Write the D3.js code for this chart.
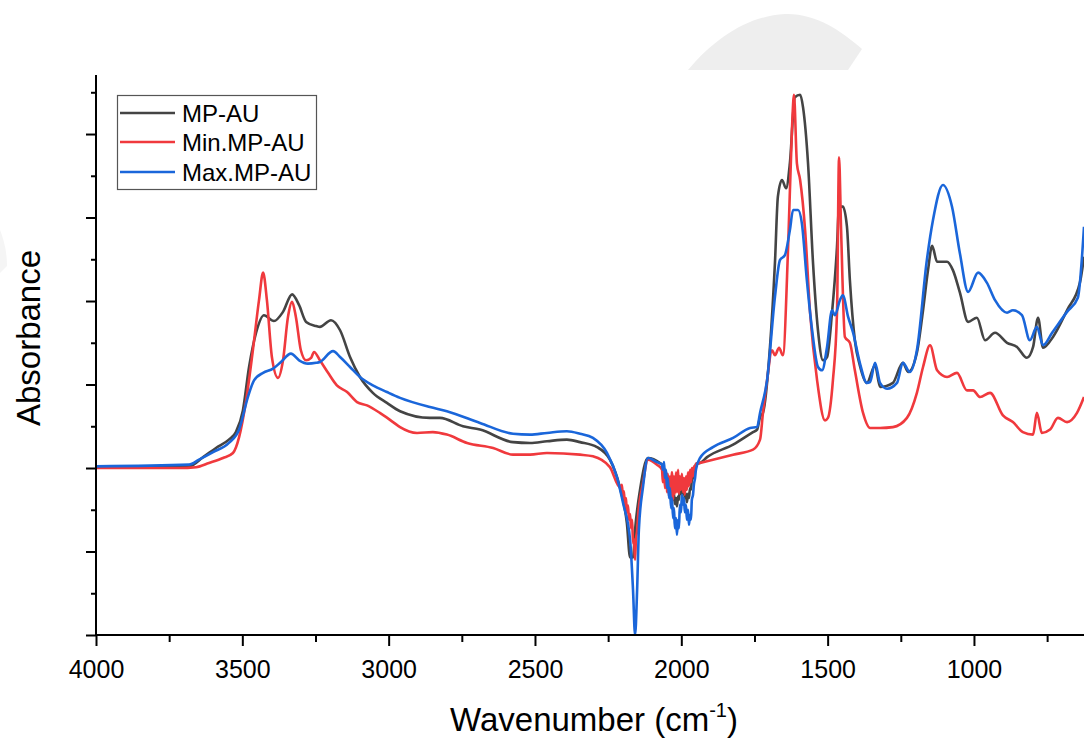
<!DOCTYPE html>
<html>
<head>
<meta charset="utf-8">
<script src="https://cdn.jsdelivr.net/npm/d3@7/dist/d3.min.js"></script>
<style>
html,body{margin:0;padding:0;background:#fff;}
svg{display:block;font-family:"Liberation Sans",Arial,sans-serif;}
</style>
</head>
<body>
<svg id="chart" width="1084" height="739"></svg>
<script>
// ---- data (wavenumber in cm-1, absorbance in a.u.) ----
const seriesNames = ["MP-AU", "Min.MP-AU", "Max.MP-AU"];
const seriesColors = ["#444444", "#f0393d", "#1a66da"];

const mpAuWn = [4000,3682,3634,3590,3546,3522,3498,3477,3453,3426,3392,3361,3330,3306,3282,3248,3235,3197,3166,3132,3098,3054,3006,2961,2859,2825,2746,2688,2575,2517,2459,2391,2346,2288,2244,2210,2186,2175,2165,2158,2141,2114,2073,
  2066,2063,2059,2056,2052,2049,2046,2042,2039,2035,2032,2028,2025,2022,2018,2015,2011,2008,2005,2001,1998,1994,1991,1988,1984,1981,1977,1974,1970,1967,1964,1960,1957,1953,1950,
  1936,1912,1823,1755,1741,1731,1721,1697,1680,1670,1656,1642,1629,1612,1594,1584,1567,1550,1533,1516,1502,1485,1468,1461,1448,1434,1424,1407,1390,1366,1338,1321,1277,1243,1225,1195,1174,1157,1143,1126,1092,1072,1048,1020,990,962,928,887,853,819,798,781,764,730,682,638,624];
const mpAuAbs = [0.001,0.002,0.013,0.024,0.034,0.043,0.069,0.121,0.162,0.183,0.176,0.187,0.208,0.195,0.175,0.170,0.169,0.177,0.165,0.133,0.109,0.090,0.078,0.068,0.060,0.060,0.050,0.046,0.031,0.030,0.032,0.034,0.031,0.025,0.010,-0.023,-0.066,-0.107,-0.107,-0.074,-0.026,0.012,0.006,
  0.004,-0.002,0.001,-0.010,-0.005,-0.017,-0.012,-0.024,-0.019,-0.031,-0.026,-0.038,-0.031,-0.043,-0.036,-0.046,-0.034,-0.038,-0.024,-0.031,-0.022,-0.031,-0.026,-0.036,-0.031,-0.041,-0.031,-0.036,-0.024,-0.026,-0.014,-0.012,-0.002,0,0.005,
  0.006,0.013,0.028,0.043,0.046,0.061,0.066,0.145,0.246,0.325,0.345,0.335,0.365,0.444,0.447,0.432,0.365,0.246,0.165,0.129,0.133,0.186,0.265,0.313,0.313,0.289,0.225,0.153,0.123,0.102,0.123,0.097,0.102,0.126,0.115,0.138,0.189,0.237,0.266,0.247,0.247,0.237,0.210,0.175,0.180,0.153,0.162,0.150,0.145,0.132,0.145,0.180,0.144,0.157,0.189,0.222,0.253];

const minWn = [4000,3716,3658,3614,3566,3532,3511,3487,3464,3443,3429,3416,3399,3378,3361,3344,3330,3317,3300,3282,3265,3255,3235,3207,3177,3142,3108,3074,3030,2985,2961,2903,2849,2801,2732,2643,2575,2517,2459,2346,2302,2244,2210,
  2203,2199,2196,2193,2189,2186,2182,2179,2175,2172,2168,2165,2162,2158,2155,2151,2148,
  2131,2114,2083,
  2066,2063,2059,2056,2052,2049,2046,2042,2039,2035,2032,2028,2025,2022,2018,2015,2011,2008,2005,2001,1998,1994,1991,1988,1984,1981,1977,1974,1970,1967,1964,1960,1957,1953,1950,
  1926,1823,1755,1731,1721,1707,1690,1680,1666,1653,1635,1622,1615,1605,1594,1577,1560,1536,1509,1499,1482,1468,1461,1454,1441,1424,1407,1379,1355,1321,1277,1229,1195,1174,1150,1126,1092,1058,1024,1003,979,945,901,867,833,798,785,768,740,713,682,648,624];
const minAbs = [0,0,0.001,0.006,0.012,0.018,0.037,0.081,0.141,0.201,0.234,0.201,0.133,0.108,0.129,0.181,0.199,0.181,0.141,0.129,0.132,0.139,0.129,0.114,0.099,0.091,0.079,0.075,0.066,0.055,0.049,0.042,0.043,0.040,0.030,0.024,0.016,0.016,0.018,0.016,0.014,0.001,-0.023,
  -0.020,-0.036,-0.028,-0.045,-0.036,-0.053,-0.045,-0.062,-0.055,-0.072,-0.062,-0.090,-0.085,-0.110,-0.085,-0.075,-0.059,
  -0.018,0.010,0.004,
  -0.002,-0.017,0,-0.024,-0.005,-0.029,-0.007,-0.034,-0.010,-0.036,-0.005,-0.038,-0.010,-0.031,-0.005,-0.029,-0.002,-0.031,-0.010,-0.026,-0.007,-0.029,-0.012,-0.032,-0.010,-0.026,-0.005,-0.022,-0.002,-0.017,0,-0.010,0.002,-0.002,0.005,
  0.007,0.016,0.022,0.034,0.066,0.105,0.141,0.135,0.144,0.135,0.265,0.405,0.447,0.365,0.345,0.285,0.186,0.105,0.057,0.060,0.105,0.186,0.372,0.285,0.157,0.150,0.117,0.066,0.048,0.048,0.049,0.060,0.090,0.121,0.147,0.117,0.109,0.114,0.093,0.093,0.085,0.090,0.063,0.055,0.043,0.040,0.066,0.042,0.046,0.060,0.055,0.066,0.085];

const maxWn = [4000,3682,3648,3600,3546,3511,3481,3460,3429,3395,3368,3334,3306,3276,3248,3235,3190,3166,3132,3098,3054,3006,2961,2859,2801,2688,2575,2517,2459,2391,2346,2302,2254,2220,2199,2175,2165,2158,2151,2145,2131,2114,2083,
  2066,2063,2059,2056,2052,2049,2046,2042,2039,2035,2032,2028,2025,2022,2018,2015,2011,2008,2005,2001,1998,1994,1991,1988,1984,1981,1977,1974,1970,1967,1964,1960,1957,1953,1950,
  1936,1892,1823,1765,1741,1731,1707,1680,1663,1646,1629,1618,1601,1588,1571,1553,1533,1519,1502,1485,1475,1458,1448,1430,1413,1390,1366,1355,1338,1321,1297,1263,1243,1219,1195,1161,1140,1106,1075,1048,1020,986,956,928,887,867,836,809,785,764,733,682,645,624];
const maxAbs = [0.002,0.004,0.010,0.019,0.030,0.046,0.085,0.105,0.114,0.119,0.127,0.137,0.129,0.125,0.126,0.127,0.140,0.133,0.121,0.109,0.099,0.091,0.084,0.073,0.068,0.054,0.041,0.040,0.042,0.044,0.041,0.036,0.018,-0.011,-0.042,-0.086,-0.146,-0.200,-0.146,-0.074,-0.023,0.012,0.007,
  0.004,-0.002,0.007,-0.012,-0.002,-0.024,-0.012,-0.036,-0.024,-0.048,-0.036,-0.060,-0.048,-0.072,-0.060,-0.080,-0.062,-0.072,-0.044,-0.053,-0.032,-0.044,-0.036,-0.053,-0.044,-0.062,-0.050,-0.068,-0.056,-0.062,-0.038,-0.032,-0.020,-0.012,-0.002,
  0.012,0.025,0.036,0.048,0.049,0.066,0.105,0.205,0.249,0.255,0.285,0.309,0.309,0.293,0.225,0.165,0.121,0.117,0.145,0.189,0.183,0.201,0.207,0.181,0.162,0.126,0.102,0.103,0.126,0.102,0.095,0.102,0.126,0.115,0.141,0.249,0.297,0.339,0.313,0.257,0.211,0.234,0.222,0.201,0.186,0.189,0.183,0.153,0.169,0.147,0.162,0.187,0.204,0.289];

const xTickValues = [4000,3500,3000,2500,2000,1500,1000];
const xMinorValues = [3750,3250,2750,2250,1750,1250,750];
const yMajorValues = [-0.2,-0.1,0,0.1,0.2,0.3,0.4];
const yMinorValues = [-0.15,-0.05,0.05,0.15,0.25,0.35,0.45];

// ---- layout ----
const svg = d3.select("#chart");
const pLeft = 96, pRight = 1084, pTop = 75, pBottom = 635;

const x = d3.scaleLinear().domain([4000, 624]).range([pLeft, pRight]);
const y = d3.scaleLinear().domain([-0.2, 0.4707]).range([pBottom, pTop]);

// faint background watermark shapes
svg.append("path")
  .attr("d", "M688,70 C715,38 748,16 785,14 C815,13 840,30 862,49 L848,70 Z")
  .attr("fill", "#eeeeee");
svg.append("path")
  .attr("d", "M0,230 C4,240 7,252 7,266 L0,273 Z")
  .attr("fill", "#f5f5f5");

const series = [
  {name: seriesNames[0], color: seriesColors[0], wn: mpAuWn, abs: mpAuAbs},
  {name: seriesNames[1], color: seriesColors[1], wn: minWn, abs: minAbs},
  {name: seriesNames[2], color: seriesColors[2], wn: maxWn, abs: maxAbs}
];

const line = d3.line()
  .x(d => x(d[0]))
  .y(d => y(d[1]))
  .curve(d3.curveMonotoneX);

svg.append("defs").append("clipPath").attr("id", "plotclip")
  .append("rect").attr("x", pLeft).attr("y", 0).attr("width", pRight - pLeft).attr("height", pBottom + 1);

const gLines = svg.append("g").attr("clip-path", "url(#plotclip)");
series.forEach(s => {
  gLines.append("path")
    .datum(s.wn.map((w, i) => [w, s.abs[i]]))
    .attr("fill", "none")
    .attr("stroke", s.color)
    .attr("stroke-width", 2.6)
    .attr("stroke-linejoin", "round")
    .attr("d", line);
});

// ---- axes ----
const xAxis = svg.append("g").attr("transform", `translate(0,${pBottom})`);
xAxis.call(d3.axisBottom(x).tickValues(xTickValues).tickSize(11).tickSizeOuter(0).tickPadding(14).tickFormat(d3.format("d")));
xAxis.append("g").call(d3.axisBottom(x).tickValues(xMinorValues).tickSize(7).tickFormat(""))
  .select(".domain").remove();
xAxis.selectAll("line").attr("stroke", "#000").attr("stroke-width", 2);
xAxis.select(".domain").attr("stroke", "#000").attr("stroke-width", 2).attr("d", `M${pLeft},0H${pRight}`);
xAxis.selectAll("text").attr("font-size", 25).attr("fill", "#000")
  .attr("font-family", "'Liberation Sans', Arial, sans-serif");

const yAxis = svg.append("g").attr("transform", `translate(${pLeft},0)`);
yAxis.call(d3.axisLeft(y).tickValues(yMajorValues).tickSize(10).tickSizeOuter(0).tickFormat(""));
yAxis.append("g").call(d3.axisLeft(y).tickValues(yMinorValues).tickSize(5).tickFormat(""))
  .select(".domain").remove();
yAxis.selectAll("line").attr("stroke", "#000").attr("stroke-width", 2);
yAxis.select(".domain").attr("stroke", "#000").attr("stroke-width", 2).attr("d", `M0,${pTop}V${pBottom}`);

// ---- axis titles ----
const xt = svg.append("text")
  .attr("x", 594).attr("y", 731)
  .attr("text-anchor", "middle")
  .attr("font-size", 33).attr("fill", "#000");
xt.append("tspan").text("Wavenumber (cm");
xt.append("tspan").attr("font-size", 20).attr("dy", -14).text("-1");
xt.append("tspan").attr("dy", 14).text(")");

svg.append("text")
  .attr("transform", "translate(40,338) rotate(-90)")
  .attr("text-anchor", "middle")
  .attr("font-size", 33).attr("fill", "#000")
  .text("Absorbance");

// ---- legend ----
const lg = svg.append("g");
lg.append("rect").attr("x", 117.5).attr("y", 95.5).attr("width", 199).attr("height", 94)
  .attr("fill", "#fff").attr("stroke", "#555").attr("stroke-width", 1.2);
const rowY = [113, 142, 172];
series.forEach((s, i) => {
  lg.append("line").attr("x1", 120).attr("x2", 175).attr("y1", rowY[i]).attr("y2", rowY[i])
    .attr("stroke", s.color).attr("stroke-width", 2.6);
  lg.append("text").attr("x", 182).attr("y", rowY[i] + 8.5)
    .attr("font-size", 24).attr("fill", "#000").text(s.name);
});
</script>
</body>
</html>
